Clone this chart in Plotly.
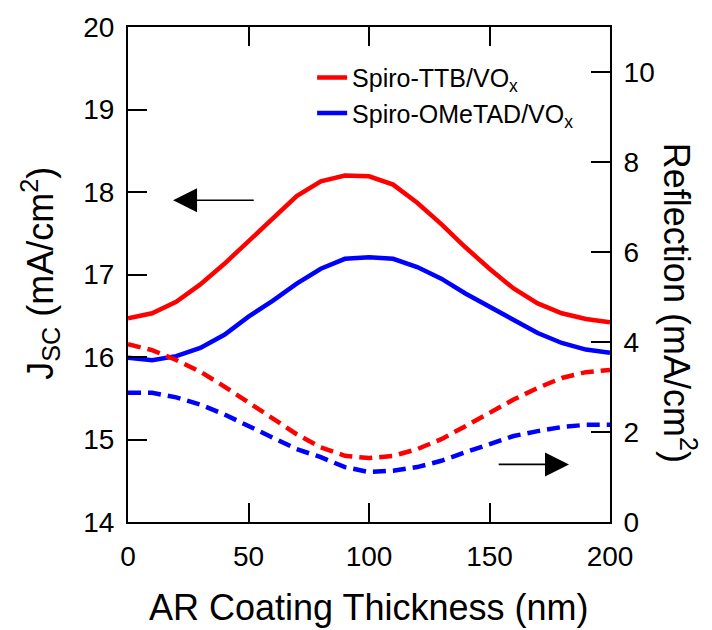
import plotly.graph_objects as go

thickness = [0, 10, 20, 30, 40, 50, 60, 70, 80, 90, 100, 110, 120, 130, 140, 150, 160, 170, 180, 190, 200]

jsc_ttb = [16.47, 16.53, 16.67, 16.88, 17.13, 17.40, 17.68, 17.95, 18.13, 18.20, 18.19, 18.09, 17.87,
           17.61, 17.33, 17.07, 16.83, 16.65, 16.53, 16.46, 16.42]
jsc_ometad = [15.99, 15.96, 16.01, 16.11, 16.27, 16.49, 16.68, 16.89, 17.07, 17.19, 17.21, 17.19, 17.09,
              16.95, 16.77, 16.61, 16.45, 16.29, 16.17, 16.09, 16.05]
refl_ttb = [3.95, 3.82, 3.60, 3.34, 3.01, 2.65, 2.29, 1.95, 1.66, 1.47, 1.42, 1.47, 1.62,
            1.84, 2.13, 2.43, 2.72, 2.98, 3.20, 3.33, 3.38]
refl_ometad = [2.87, 2.87, 2.77, 2.61, 2.39, 2.13, 1.88, 1.62, 1.44, 1.22, 1.11, 1.14, 1.22,
               1.36, 1.55, 1.73, 1.91, 2.02, 2.11, 2.16, 2.16]

names = ["Spiro-TTB/VO<sub>x</sub>", "Spiro-OMeTAD/VO<sub>x</sub>"]
colors = ["#ff0000", "#0000ff"]

FONT = "Arial, Liberation Sans, sans-serif"
LW = 4.5
DASH = "13px,7px"

fig = go.Figure()
fig.add_trace(go.Scatter(x=thickness, y=jsc_ttb, mode="lines", name=names[0],
                         line=dict(color=colors[0], width=LW), yaxis="y"))
fig.add_trace(go.Scatter(x=thickness, y=jsc_ometad, mode="lines", name=names[1],
                         line=dict(color=colors[1], width=LW), yaxis="y"))
fig.add_trace(go.Scatter(x=thickness, y=refl_ttb, mode="lines", showlegend=False,
                         line=dict(color=colors[0], width=LW, dash=DASH), yaxis="y2"))
fig.add_trace(go.Scatter(x=thickness, y=refl_ometad, mode="lines", showlegend=False,
                         line=dict(color=colors[1], width=LW, dash=DASH), yaxis="y2"))

axis_common = dict(showline=True, linecolor="black", linewidth=2, ticks="inside", ticklen=19,
                   tickwidth=2, tickcolor="black", showgrid=False, zeroline=False,
                   tickfont=dict(family=FONT, size=28, color="black"))

fig.update_layout(
    width=712, height=630,
    margin=dict(l=128, r=102, t=23, b=108),
    plot_bgcolor="white", paper_bgcolor="white",
    font=dict(family=FONT, color="black"),
    xaxis=dict(range=[0, 200], tickvals=[0, 50, 100, 150, 200], mirror="ticks",
               ticklabelstandoff=8, **axis_common),
    yaxis=dict(range=[14, 20], tickvals=[14, 15, 16, 17, 18, 19, 20], ticklabelstandoff=6,
               **axis_common),
    yaxis2=dict(range=[0, 11], tickvals=[0, 2, 4, 6, 8, 10], overlaying="y", side="right",
                ticklabelstandoff=6, **axis_common),
    legend=dict(x=0.382, y=0.944, xanchor="left", yanchor="top", bgcolor="rgba(0,0,0,0)",
                font=dict(family=FONT, size=25, color="black"), tracegroupgap=0),
    showlegend=True,
)

# axis titles
fig.add_annotation(text="AR Coating Thickness (nm)", xref="paper", yref="paper", x=0.5, y=-0.172,
                   xanchor="center", yanchor="middle", showarrow=False,
                   font=dict(family=FONT, size=36, color="black"))
fig.add_annotation(text="J<sub>SC</sub> (mA/cm<sup>2</sup>)", xref="paper", yref="paper",
                   x=-0.183, y=0.503, xanchor="center", yanchor="middle", textangle=-90,
                   showarrow=False, font=dict(family=FONT, size=36, color="black"))
fig.add_annotation(text="Reflection (mA/cm<sup>2</sup>)", xref="paper", yref="paper",
                   x=1.145, y=0.443, xanchor="center", yanchor="middle", textangle=90,
                   showarrow=False, font=dict(family=FONT, size=36, color="black"))

# arrows
fig.add_annotation(x=18.7, y=17.9, ax=52.8, ay=17.9, xref="x", yref="y", axref="x", ayref="y",
                   text="", showarrow=True, arrowhead=2, arrowsize=3, arrowwidth=1.6,
                   arrowcolor="black")
fig.add_annotation(x=183, y=1.28, ax=153.2, ay=1.28, xref="x", yref="y2", axref="x", ayref="y2",
                   text="", showarrow=True, arrowhead=2, arrowsize=3, arrowwidth=1.6,
                   arrowcolor="black")

fig.write_html("out.html")
